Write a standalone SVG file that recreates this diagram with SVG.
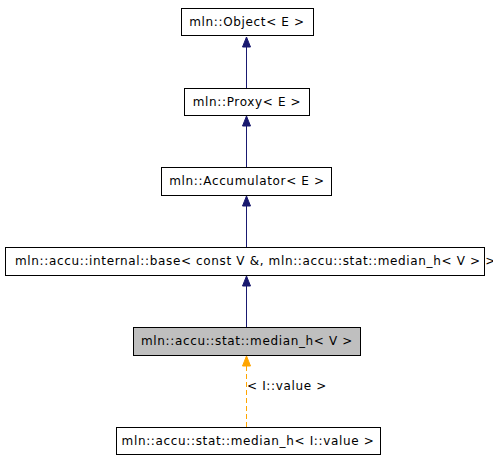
<svg xmlns="http://www.w3.org/2000/svg" width="493" height="456" viewBox="0 0 493 456">
<style>
.n rect{fill:#fff;stroke:#000;stroke-width:1}
.n text{font-family:"DejaVu Sans",sans-serif;font-size:12px;letter-spacing:0.65px;fill:#000;text-anchor:middle}
.e{stroke:#191970;stroke-width:1;fill:none}
.h{fill:#191970;stroke:#191970}
.o{stroke:#ffa500;stroke-width:1;fill:none;stroke-dasharray:5,3}
.oh{fill:#ffa500;stroke:#ffa500}
.l{font-family:"DejaVu Sans",sans-serif;font-size:12px;letter-spacing:0.65px;fill:#000}
</style>
<rect width="493" height="456" fill="#fff"/>
<g id="edges">
<line class="e" x1="246.5" y1="88" x2="246.5" y2="47"/>
<polygon class="h" points="246.5,37 242.5,47 250.5,47"/>
<line class="e" x1="246.5" y1="167" x2="246.5" y2="126"/>
<polygon class="h" points="246.5,116 242.5,126 250.5,126"/>
<line class="e" x1="246.5" y1="247" x2="246.5" y2="206"/>
<polygon class="h" points="246.5,196 242.5,206 250.5,206"/>
<line class="e" x1="246.5" y1="327" x2="246.5" y2="286"/>
<polygon class="h" points="246.5,276 242.5,286 250.5,286"/>
<line class="o" x1="246.5" y1="427" x2="246.5" y2="366"/>
<polygon class="oh" points="246.5,356 242.5,366 250.5,366"/>
<text class="l" x="247" y="390">&lt; I::value &gt;</text>
</g>
<g id="n1" class="n"><rect x="181.5" y="8.5" width="132" height="27"/><text x="247" y="26">mln::Object&lt; E &gt;</text></g>
<g id="n2" class="n"><rect x="184.5" y="88.5" width="125" height="27"/><text x="247" y="106">mln::Proxy&lt; E &gt;</text></g>
<g id="n3" class="n"><rect x="161.5" y="167.5" width="170" height="28"/><text x="247" y="185">mln::Accumulator&lt; E &gt;</text></g>
<g id="n4" class="n"><rect x="5.5" y="247.5" width="479" height="28"/><text x="15" y="265" style="text-anchor:start">mln::accu::internal::base&lt; const V &amp;, mln::accu::stat::median_h&lt; V &gt; &gt;</text></g>
<g id="n5" class="n"><rect x="133.5" y="327.5" width="227" height="28" style="fill:#bfbfbf"/><text x="247" y="345">mln::accu::stat::median_h&lt; V &gt;</text></g>
<g id="n6" class="n"><rect x="116.5" y="427.5" width="264" height="27"/><text x="248" y="445">mln::accu::stat::median_h&lt; I::value &gt;</text></g>
</svg>
